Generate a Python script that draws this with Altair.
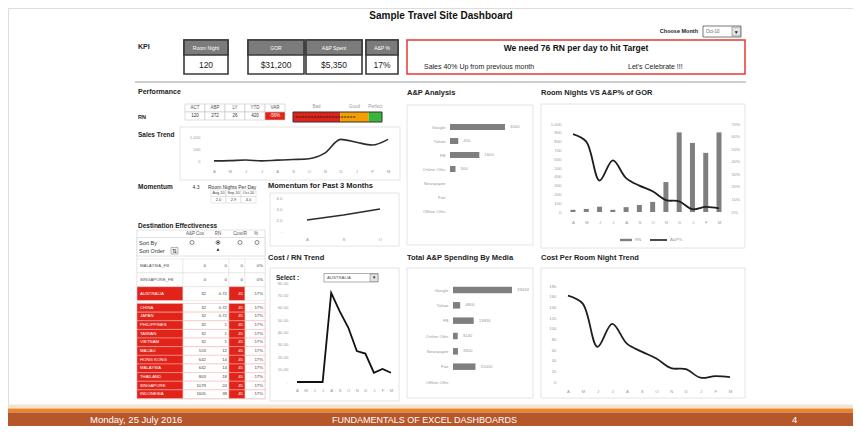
import altair as alt
import pandas as pd

W, H = 845, 418
def X(v): return v - 8
def Y(v): return v - 8

FONT = "Liberation Sans"
RED = "#e2231a"
GT = "#9a9a9a"
FIRST = "substring(datum.label, 0, 1)"

# ---------------- data ----------------
kpi_labels = ["Room Night", "GOR", "A&P Spent", "A&P %"]
kpi_values = ["120", "$31,200", "$5,350", "17%"]
target_msg = "We need 76 RN per day to hit Target"
sales_msg = "Sales 40% Up from previous month"
celebrate_msg = "Let's Celebrate !!!"
chosen_month = "Oct-10"

perf_cols = ["ACT", "ABP", "LY", "YTD", "VAR"]
perf_vals = ["120", "272", "26", "420", "-56%"]

gauge_names = ["Bad", "Good", "Perfect"]
gauge_start = [0, 53, 85]
gauge_end = [53, 85, 100]
gauge_actual = [70]

months = ["Apr", "May", "Jun", "Jul", "Aug", "Sep", "Oct", "Nov", "Dec", "Jan", "Feb", "Mar"]
rn_by_month = [25, 35, 60, 25, 55, 80, 115, 340, 905, 785, 672, 905]
ap_pct_by_month = [0.62, 0.56, 0.25, 0.41, 0.27, 0.21, 0.165, 0.095, 0.085, 0.022, 0.04, 0.028]
cost_per_rn = [162, 147, 66, 109, 72, 57, 44, 26, 24, 8, 11, 9]
aus_cost_rn = [0, 0, 0, 0, 72, 57, 44, 25, 23, 7.5, 10.5, 7.5]

momentum_value = "4.3"
momentum_months = ["Aug-10", "Sep-10", "Oct-10"]
momentum_vals = [2.0, 2.9, 4.0]

media = ["Google", "Yahoo", "FB", "Online Oths", "Newspaper", "Fair", "Offline Oths"]
ap_month_media = [3000, 450, 1600, 300, 0, 0, 0]
ap_total_media = [39434, 4800, 13836, 3140, 3300, 15000, 0]

dest_names = ["MALAYSIA_FB", "SINGAPORE_FB", "AUSTRALIA", "CHINA", "JAPAN", "PHILIPPINES",
              "TAIWAN", "VIETNAM", "MACAU", "HONG KONG", "MALAYSIA", "THAILAND",
              "SINGAPORE", "INDONESIA"]
dest_apcost = [0, 0, 32, 32, 32, 32, 32, 32, 553, 642, 642, 803, 1079, 1605]
dest_rn = [0, 0, 0.72, 0.72, 0.72, 1, 1, 1, 12, 14, 14, 18, 24, 38]
dest_cost = [0, 0, 45, 45, 45, 45, 45, 45, 45, 45, 45, 45, 45, 45]
dest_pct = [0, 0, 0.17, 0.17, 0.17, 0.17, 0.17, 0.17, 0.17, 0.17, 0.17, 0.17, 0.17, 0.17]

footer_date = "Monday, 25 July 2016"
footer_title = "FUNDAMENTALS OF EXCEL DASHBOARDS"
footer_page = "4"

# ---------------- helpers ----------------
one = pd.DataFrame({"k": [0]})
layers = []


def rect(x0, y0, x1, y1, fill="white", stroke=None, sw=1.0, fo=1.0):
    props = dict(fill=fill, fillOpacity=fo)
    if stroke:
        props.update(stroke=stroke, strokeWidth=sw)
    else:
        props.update(strokeWidth=0)
    layers.append(alt.Chart(one).mark_rect(**props).encode(
        x=alt.value(X(x0)), x2=alt.value(X(x1)), y=alt.value(Y(y0)), y2=alt.value(Y(y1))))


def text(s, x, y, size=6.0, bold=False, color="#222", align="left", baseline="middle"):
    layers.append(alt.Chart(one).mark_text(
        text=s, font=FONT, fontSize=size, fontWeight="bold" if bold else "normal",
        color=color, align=align, baseline=baseline).encode(x=alt.value(X(x)), y=alt.value(Y(y))))


def hline(x0, x1, y, color="#cccccc", sw=1.0):
    layers.append(alt.Chart(one).mark_rule(color=color, strokeWidth=sw).encode(
        x=alt.value(X(x0)), x2=alt.value(X(x1)), y=alt.value(Y(y))))


def pt(x, y, shape="circle", size=20, filled=False, color="#555", sw=0.7):
    props = dict(shape=shape, size=size, filled=filled, strokeWidth=sw)
    if filled:
        props.update(fill=color, strokeWidth=0)
    else:
        props.update(stroke=color, fill="white")
    layers.append(alt.Chart(one).mark_point(**props, opacity=1).encode(
        x=alt.value(X(x)), y=alt.value(Y(y))))


def ax_bottom(yc, expr=None, size=4.3):
    kw = dict(orient="bottom", offset=Y(yc) - H, domain=False, ticks=False, grid=False,
              labelPadding=0, labelBaseline="middle", labelAngle=0, labelFontSize=size,
              labelColor=GT, labelFont=FONT, labelOverlap=False, title=None, zindex=2)
    if expr:
        kw["labelExpr"] = expr
    return alt.Axis(**kw)


def ax_left(xr, values=None, fmt=None, expr=None, size=4.3, color=GT):
    kw = dict(orient="left", offset=-X(xr), domain=False, ticks=False, grid=False,
              labelPadding=0, labelFontSize=size, labelColor=color, labelFont=FONT,
              labelOverlap=False, title=None, zindex=2)
    if values is not None:
        kw["values"] = values
    if fmt:
        kw["format"] = fmt
    if expr:
        kw["labelExpr"] = expr
    return alt.Axis(**kw)


def ax_right(xl, values=None, fmt=None, size=4.3):
    kw = dict(orient="right", offset=X(xl) - W, domain=False, ticks=False, grid=False,
              labelPadding=0, labelFontSize=size, labelColor=GT, labelFont=FONT,
              labelOverlap=False, title=None, labelAlign="left", zindex=2)
    if values is not None:
        kw["values"] = values
    if fmt:
        kw["format"] = fmt
    return alt.Axis(**kw)


def qscale(d0, d1, r0, r1):
    return alt.Scale(domain=[d0, d1], range=[r0, r1], nice=False, zero=False)


def month_scale(x0, x1):
    return alt.Scale(type="point", domain=months, range=[X(x0), X(x1)], padding=0)


# ---------------- header ----------------
text("Sample Travel Site Dashboard", 441, 16, size=10, bold=True, color="#111", align="center")
text("Choose Month", 698, 31, size=5.5, bold=True, align="right")
rect(703, 26, 741, 37, stroke="#555555", sw=0.8)
text(chosen_month, 706, 31.5, size=4.5, color="#666")
rect(732, 27, 740.5, 36, fill="#e4e4e4", stroke="#777777", sw=0.6)
text("\u25bc", 736.3, 31.8, size=5, color="#222", align="center")

text("KPI", 138, 47, size=7, bold=True, color="#222")
kpi_boxes = [(184, 228), (248, 304), (306, 362), (366, 398)]
for (x0, x1), lab, val in zip(kpi_boxes, kpi_labels, kpi_values):
    rect(x0, 40, x1, 74, fill="white", stroke="#3a3a3a", sw=1.6)
    rect(x0, 40, x1, 55, fill="#7b7b7b", stroke="#3a3a3a", sw=1.6)
    text(lab, (x0 + x1) / 2, 47.5, size=5, color="white", align="center")
    text(val, (x0 + x1) / 2, 65, size=8.5, color="#222", align="center")

rect(407, 40, 745, 74, fill="white", stroke="#e53935", sw=1.5)
text(target_msg, 576, 48, size=8.5, bold=True, color="#111", align="center")
text(sales_msg, 424, 67, size=7, color="#222")
text(celebrate_msg, 628, 67, size=7, color="#222")

hline(135, 746, 82, color="#bdbdbd", sw=1.5)

# ---------------- panel boxes ----------------
for b in [(180, 127, 400, 180), (270, 193, 399, 246), (270, 268, 399, 401),
          (407, 105, 533, 245), (407, 268, 533, 398), (541, 104, 745, 248),
          (541, 268, 745, 398)]:
    rect(*b, fill="white", fo=0, stroke="#dddddd", sw=0.8)

# ---------------- performance ----------------
text("Performance", 138, 92, size=7, bold=True, color="#222")
text("RN", 138, 117, size=5.5, bold=True, color="#222")

perf_df = pd.DataFrame({"col": perf_cols, "val": perf_vals})
pxs = alt.Scale(type="band", domain=perf_cols, range=[X(185), X(285)], paddingInner=0, paddingOuter=0)
px = alt.X("col:N", scale=pxs, axis=None)
is_var = alt.datum.col == "VAR"
layers.append(alt.Chart(perf_df).mark_rect(fill="white", stroke="#c8c8c8", strokeWidth=0.6).encode(
    x=px, y=alt.value(Y(104)), y2=alt.value(Y(112))))
layers.append(alt.Chart(perf_df).mark_rect(stroke="#c8c8c8", strokeWidth=0.6).encode(
    x=px, y=alt.value(Y(112)), y2=alt.value(Y(120)),
    color=alt.when(is_var).then(alt.value(RED)).otherwise(alt.value("white"))))
layers.append(alt.Chart(perf_df).mark_text(font=FONT, fontSize=4.5, color="#555").encode(
    x=px, y=alt.value(Y(108)), text="col:N"))
layers.append(alt.Chart(perf_df).mark_text(font=FONT, fontSize=4.5).encode(
    x=px, y=alt.value(Y(116.2)), text="val:N",
    color=alt.when(is_var).then(alt.value("white")).otherwise(alt.value("#333"))))

gauge_df = pd.DataFrame({"name": gauge_names, "s": gauge_start, "e": gauge_end})
gxs = qscale(0, 100, X(293), X(382))
layers.append(alt.Chart(gauge_df).mark_rect().encode(
    x=alt.X("s:Q", scale=gxs, axis=None), x2="e:Q",
    y=alt.value(Y(112)), y2=alt.value(Y(122)),
    color=alt.Color("name:N", scale=alt.Scale(domain=gauge_names, range=[RED, "#f59e00", "#39b639"]), legend=None)))
layers.append(alt.Chart(gauge_df).transform_calculate(mid="(datum.s + datum.e) / 2").mark_text(
    font=FONT, fontSize=4.5, color="#9a9a9a").encode(
    x=alt.X("mid:Q", scale=gxs, axis=None), y=alt.value(Y(107)), text="name:N"))
rect(293, 112, 382, 122, fill="white", fo=0, stroke="#333333", sw=1)
layers.append(alt.Chart(pd.DataFrame({"v": gauge_actual})).mark_rule(
    color="#1a1a1a", strokeWidth=1.2, strokeDash=[2, 1]).encode(
    x=alt.X("v:Q", scale=gxs, axis=None), x2=alt.value(X(295)), y=alt.value(Y(117))))

# ---------------- sales trend ----------------
text("Sales Trend", 138, 135, size=6.5, bold=True, color="#222")
sales_df = pd.DataFrame({"m": months, "rn": rn_by_month, "i": range(12)})
layers.append(alt.Chart(sales_df).mark_line(color="#2b2b2b", strokeWidth=1.6, interpolate="monotone").encode(
    x=alt.X("m:N", scale=month_scale(214, 388), axis=ax_bottom(171, FIRST)),
    y=alt.Y("rn:Q", scale=qscale(0, 1000, Y(161.5), Y(137)), axis=ax_left(200, [0, 500, 1000], ",.0f")),
    order="i:Q"))

# ---------------- momentum ----------------
text("Momentum", 138, 187, size=6.5, bold=True, color="#222")
text(momentum_value, 196, 187, size=5, color="#333", align="center")
text("Room Nights Per Day", 208, 187, size=5, color="#333")
mom_df = pd.DataFrame({"m": momentum_months, "v": momentum_vals, "i": range(3)})
mxs = alt.Scale(type="band", domain=momentum_months, range=[X(211), X(256)], paddingInner=0, paddingOuter=0)
layers.append(alt.Chart(mom_df).mark_rect(fill="white", stroke="#cfcfcf", strokeWidth=0.5).encode(
    x=alt.X("m:N", scale=mxs, axis=None), y=alt.value(Y(190)), y2=alt.value(Y(196.5))))
layers.append(alt.Chart(mom_df).mark_rect(fill="white", stroke="#cfcfcf", strokeWidth=0.5).encode(
    x=alt.X("m:N", scale=mxs, axis=None), y=alt.value(Y(196.5)), y2=alt.value(Y(203))))
layers.append(alt.Chart(mom_df).mark_text(font=FONT, fontSize=3.8, color="#444").encode(
    x=alt.X("m:N", scale=mxs, axis=None), y=alt.value(Y(193.3)), text="m:N"))
layers.append(alt.Chart(mom_df).mark_text(font=FONT, fontSize=4.0, color="#444").encode(
    x=alt.X("m:N", scale=mxs, axis=None), y=alt.value(Y(199.8)), text=alt.Text("v:Q", format=".1f")))

text("Momentum for Past 3 Months", 268, 186, size=7.5, bold=True, color="#222")
layers.append(alt.Chart(mom_df).mark_line(color="#2b2b2b", strokeWidth=1.5).encode(
    x=alt.X("m:N", scale=alt.Scale(type="point", domain=momentum_months, range=[X(307), X(380)], padding=0),
            axis=ax_bottom(239, FIRST)),
    y=alt.Y("v:Q", scale=qscale(0, 6, Y(231), Y(198)),
            axis=ax_left(282, [0, 2, 4, 6], expr="datum.value == 0 ? '-' : format(datum.value, '.1f')")),
    order="i:Q"))

# ---------------- destination effectiveness ----------------
text("Destination Effectiveness", 138, 226, size=6.5, bold=True, color="#222")
rect(137, 230, 265, 399, fill="white", stroke="#d0d0d0", sw=0.6)
for lab, xc in [("A&P Cos", 195), ("RN", 218), ("Cost/R", 240), ("%", 256)]:
    text(lab, xc, 234, size=4.5, color="#555", align="center")
rect(137, 237.5, 265, 256, fill="white", stroke="#d0d0d0", sw=0.6)
text("Sort By", 139, 242.5, size=5.5, color="#333")
text("Sort Order", 139, 251, size=5.5, color="#333")
rect(171, 247.5, 178, 254, fill="#f2f2f2", stroke="#777777", sw=0.5)
text("\u21c5", 174.5, 251, size=5.5, color="#333", align="center")
for xc in [192, 218, 240, 257]:
    pt(xc, 242.5, size=16)
pt(218, 242.5, size=4, filled=True, color="#222")
pt(218, 249.5, shape="triangle-up", size=8, filled=True, color="#111")

dest = pd.DataFrame({"name": dest_names, "apcost": dest_apcost, "rn": dest_rn,
                     "cost": dest_cost, "pct": dest_pct})
hot = alt.datum.cost > 0


def dest_block(df, y0, y1, sep):
    ys = alt.Scale(type="band", domain=list(df["name"]), range=[Y(y0), Y(y1)], paddingInner=0, paddingOuter=0)
    ye = alt.Y("name:N", scale=ys, axis=None)
    b = alt.Chart(df)
    layers.append(b.mark_rect(stroke=sep, strokeWidth=0.5).encode(
        x=alt.value(X(137)), x2=alt.value(X(183)), y=ye,
        color=alt.when(hot).then(alt.value(RED)).otherwise(alt.value("white"))))
    layers.append(b.mark_rect(stroke=sep, strokeWidth=0.5).encode(
        x=alt.value(X(183)), x2=alt.value(X(229)), y=ye, color=alt.value("white")))
    layers.append(b.mark_rect(stroke=sep, strokeWidth=0.5).encode(
        x=alt.value(X(229)), x2=alt.value(X(245)), y=ye,
        color=alt.when(hot).then(alt.value(RED)).otherwise(alt.value("white"))))
    layers.append(b.mark_rect(stroke=sep, strokeWidth=0.5).encode(
        x=alt.value(X(245)), x2=alt.value(X(265)), y=ye, color=alt.value("white")))
    tc = dict(font=FONT, fontSize=4.3)
    layers.append(b.mark_text(align="left", **tc).encode(
        x=alt.value(X(140)), y=ye, text="name:N",
        color=alt.when(hot).then(alt.value("white")).otherwise(alt.value("#555"))))
    layers.append(b.mark_text(align="right", color="#444", **tc).encode(
        x=alt.value(X(206)), y=ye, text=alt.Text("apcost:Q", format="d")))
    layers.append(b.mark_text(align="right", color="#444", **tc).encode(
        x=alt.value(X(227)), y=ye, text=alt.Text("rn:Q", format=".2~f")))
    layers.append(b.mark_text(align="right", **tc).encode(
        x=alt.value(X(243)), y=ye, text=alt.Text("cost:Q", format="d"),
        color=alt.when(hot).then(alt.value("white")).otherwise(alt.value("#444"))))
    layers.append(b.mark_text(align="right", color="#444", **tc).encode(
        x=alt.value(X(263)), y=ye, text=alt.Text("pct:Q", format=".0%")))


dest_block(dest.iloc[:3], 259, 300.5, "#dcdcdc")
dest_block(dest.iloc[3:], 303.5, 398.5, "#f3b0ac")

# ---------------- cost / RN trend ----------------
text("Cost / RN Trend", 268, 258, size=7.5, bold=True, color="#222")
text("Select :", 276, 277.5, size=6.5, bold=True, color="#222")
rect(324, 273.5, 378, 282, stroke="#777777", sw=0.6)
text("AUSTRALIA", 327, 278, size=4.3, color="#555")
rect(370, 274, 378, 281.5, fill="#e4e4e4", stroke="#777777", sw=0.5)
text("\u25bc", 374, 278.3, size=4.3, color="#222", align="center")
aus_df = pd.DataFrame({"m": months, "v": aus_cost_rn, "i": range(12)})
layers.append(alt.Chart(aus_df).mark_line(color="#111111", strokeWidth=1.8).encode(
    x=alt.X("m:N", scale=month_scale(297, 391), axis=ax_bottom(390, FIRST)),
    y=alt.Y("v:Q", scale=qscale(0, 80, Y(382), Y(283)),
            axis=ax_left(288, list(range(0, 81, 10)),
                         expr="datum.value == 0 ? '-' : format(datum.value, '.2f')")),
    order="i:Q"))

# ---------------- A&P analysis ----------------
text("A&P Analysis", 407, 93, size=7.5, bold=True, color="#222")
ap_df = pd.DataFrame({"media": media, "v": ap_month_media})
ap_ys = alt.Scale(type="point", domain=media, range=[Y(127), Y(211)], padding=0)
ap_xs = qscale(0, 3000, X(450), X(505))
layers.append(alt.Chart(ap_df).mark_bar(color="#7f7f7f", size=6).encode(
    x=alt.X("v:Q", scale=ap_xs, axis=None),
    y=alt.Y("media:N", scale=ap_ys, axis=ax_left(445))))
layers.append(alt.Chart(ap_df).transform_filter("datum.v > 0").mark_text(
    font=FONT, fontSize=4.3, color=GT, align="left", dx=5).encode(
    x=alt.X("v:Q", scale=ap_xs, axis=None),
    y=alt.Y("media:N", scale=ap_ys, axis=None), text=alt.Text("v:Q", format="d")))

text("Total A&P Spending By Media", 407, 258, size=7.5, bold=True, color="#222")
tot_df = pd.DataFrame({"media": media, "v": ap_total_media})
tot_ys = alt.Scale(type="point", domain=media, range=[Y(290), Y(382)], padding=0)
tot_xs = qscale(0, 39434, X(453), X(512))
layers.append(alt.Chart(tot_df).mark_bar(color="#7f7f7f", size=6.5).encode(
    x=alt.X("v:Q", scale=tot_xs, axis=None),
    y=alt.Y("media:N", scale=tot_ys, axis=ax_left(448))))
layers.append(alt.Chart(tot_df).transform_filter("datum.v > 0").mark_text(
    font=FONT, fontSize=4.3, color=GT, align="left", dx=5).encode(
    x=alt.X("v:Q", scale=tot_xs, axis=None),
    y=alt.Y("media:N", scale=tot_ys, axis=None), text=alt.Text("v:Q", format="d")))

# ---------------- room nights vs A&P% ----------------
text("Room Nights VS A&P% of GOR", 541, 93, size=7.5, bold=True, color="#222")
rv_df = pd.DataFrame({"m": months, "rn": rn_by_month, "pct": ap_pct_by_month, "i": range(12)})
layers.append(alt.Chart(rv_df).mark_bar(color="#7f7f7f", size=5).encode(
    x=alt.X("m:N", scale=month_scale(573, 719), axis=ax_bottom(222, FIRST)),
    y=alt.Y("rn:Q", scale=qscale(0, 1000, Y(212), Y(124)),
            axis=ax_left(561, list(range(0, 1001, 100)), ",.0f"))))
layers.append(alt.Chart(rv_df).mark_line(color="#1e1e1e", strokeWidth=1.8, interpolate="catmull-rom").encode(
    x=alt.X("m:N", scale=month_scale(573, 719), axis=None),
    y=alt.Y("pct:Q", scale=qscale(0, 0.7, Y(212), Y(124)),
            axis=ax_right(731, [round(k / 10, 1) for k in range(8)], ".0%")),
    order="i:Q"))
rect(620, 238.8, 632, 241.2, fill="#7f7f7f")
text("RN", 635, 240, size=4.3, color=GT)
hline(650, 667, 240, color="#1e1e1e", sw=1.6)
text("A&P%", 670, 240, size=4.3, color=GT)

# ---------------- cost per room night ----------------
text("Cost Per Room Night Trend", 541, 258, size=7.5, bold=True, color="#222")
cpr_df = pd.DataFrame({"m": months, "v": cost_per_rn, "i": range(12)})
layers.append(alt.Chart(cpr_df).mark_line(color="#1e1e1e", strokeWidth=1.8, interpolate="catmull-rom").encode(
    x=alt.X("m:N", scale=month_scale(568, 730), axis=ax_bottom(391, FIRST)),
    y=alt.Y("v:Q", scale=qscale(0, 180, Y(382), Y(286)),
            axis=ax_left(556, list(range(0, 181, 20)), "d")),
    order="i:Q"))

# ---------------- footer ----------------
rect(0, 404.5, 870, 408.5, fill="#f4e2d1")
rect(0, 408.5, 870, 412.5, fill="#e8862a")
rect(0, 412.5, 870, 440, fill="#b6562b")
text(footer_date, 90, 423, size=9.5, color="white", baseline="alphabetic")
text(footer_title, 332, 423, size=9, color="white", baseline="alphabetic")
text(footer_page, 792, 423, size=9.5, color="white", baseline="alphabetic")

chart = alt.layer(*layers).resolve_scale(
    x="independent", y="independent", color="independent"
).resolve_axis(x="independent", y="independent").properties(
    width=W, height=H, padding=0, autosize="none", background="white"
).configure_view(stroke=None).configure(font=FONT)

chart.save("out.html", embed_options={"renderer": "svg", "actions": False})
